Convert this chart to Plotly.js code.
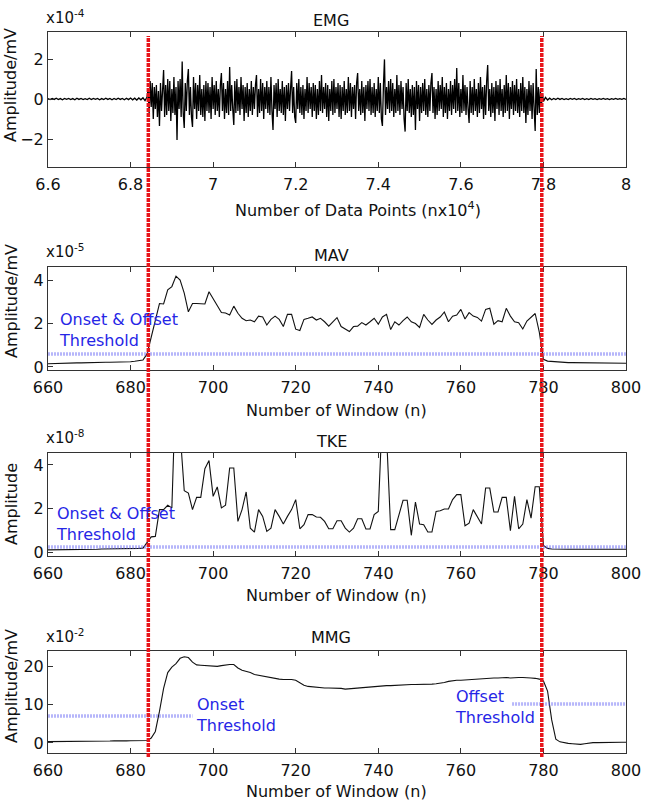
<!DOCTYPE html>
<html>
<head>
<meta charset="utf-8">
<script src="https://cdn.plot.ly/plotly-3.0.1.min.js"></script>
<style>
  html, body { margin: 0; padding: 0; background: #fff; }
  #chart { width: 645px; height: 806px; }
</style>
</head>
<body>
<div id="chart"></div>
<script>
// EMG raw signal, x in units of 1e4 data points, y in units of 1e-4 mV
// three runs of samples: quiet before onset, active, quiet after offset
var emgRest1Start = 6.6, emgRestStep = 0.005;
var emgActiveStart = 6.8425, emgActiveStep = 0.0025;
var emgRest2Start = 7.8;
var emgRest1 = [0.02,-0.03,0.03,-0.02,0.04,-0.03,0.02,-0.04,0.03,-0.02,
  0.03,-0.03,0.02,-0.04,0.04,-0.02,0.03,-0.03,0.02,-0.03,
  0.04,-0.03,0.03,-0.02,0.03,-0.04,0.02,-0.03,0.04,-0.02,
  0.03,-0.04,0.03,-0.03,0.04,-0.02,0.03,-0.04,0.04,-0.03,
  0.05,-0.04,0.04,-0.05,0.05,-0.04,0.06,-0.08,0.10];
var emgActive = [0.5,-0.7,0.9,-0.4,0.8,-1.0,0.6,-0.5,0.7,-0.9,
  0.4,-1.35,0.8,-0.6,0.5,1.45,-0.9,0.7,-0.8,1.0,
  -0.6,0.9,-1.1,0.5,-0.7,1.1,-0.8,0.6,-2.05,0.9,
  -0.5,1.0,-0.9,1.87,-0.7,-1.45,0.8,-0.6,0.9,1.5,
  -0.8,0.6,-0.9,-1.4,1.1,-0.5,0.8,-1.0,0.7,-0.6,
  1.2,-0.8,0.5,-0.9,0.7,-1.1,0.9,-0.6,0.8,-0.7,
  0.6,-1.0,1.1,-0.5,0.7,-0.8,0.9,-0.6,0.5,-0.9,
  0.7,1.3,-0.6,0.8,-1.0,0.5,-0.7,0.9,-0.8,1.6,
  -0.6,0.7,-0.5,-1.3,0.9,-0.7,1.0,-0.6,0.6,-0.8,
  1.1,-0.5,0.7,-1.1,0.6,-0.7,0.8,-0.9,0.5,-0.6,
  0.9,-0.8,0.6,-0.5,0.7,1.2,-0.9,0.5,-0.7,1.0,
  -0.6,0.8,-1.0,0.6,-0.5,0.9,-0.7,0.6,-0.8,1.1,
  -0.6,-1.55,0.7,-0.5,0.8,-0.9,1.0,-0.6,0.5,-0.7,
  0.9,-0.8,0.6,-1.1,0.7,-0.5,0.8,-0.6,0.5,1.4,
  -0.7,0.6,-0.9,-1.2,0.8,-0.5,1.0,-0.7,0.6,-0.8,
  0.7,-1.0,0.5,-0.6,1.1,-0.7,0.8,-0.5,0.6,-0.9,
  0.8,-0.6,0.7,-1.0,0.5,-0.8,0.9,-0.6,1.2,-0.7,
  0.6,-0.5,0.8,-0.9,0.7,-1.1,0.5,-0.6,0.9,-0.8,
  1.0,-0.7,0.6,-0.5,0.8,-0.9,0.7,-1.0,0.6,-0.6,
  0.9,-0.8,0.5,-0.7,1.1,-0.6,0.8,-0.9,0.6,-0.5,
  0.7,-1.0,0.8,1.3,-0.6,0.5,-0.8,0.9,-0.7,0.6,
  -1.1,0.7,-0.5,0.9,-0.6,1.0,-0.8,0.6,-0.7,0.8,
  -0.9,0.5,-0.6,1.1,-0.7,0.8,-1.0,-1.35,0.7,1.98,
  -0.8,0.6,-0.5,0.9,-0.7,1.0,-0.6,0.8,-0.9,0.5,
  -0.7,1.2,-0.6,0.7,-0.8,0.9,-0.5,0.6,-1.0,-1.63,
  0.8,-0.6,1.0,-0.7,0.5,-0.9,0.7,-0.8,0.6,-1.55,
  0.9,-0.5,0.7,-1.1,0.6,-0.7,0.8,-0.6,1.0,-0.8,
  0.5,-0.9,0.7,-0.6,0.8,1.3,-0.7,0.6,-1.0,0.5,
  -0.8,0.9,-0.6,0.7,-0.5,1.1,-0.9,0.6,-0.7,0.8,
  -1.0,0.5,-0.6,0.9,-0.8,0.7,-0.5,1.0,-0.7,1.55,
  -0.6,0.8,-0.9,0.5,-0.7,1.2,-0.6,0.7,-0.8,0.6,
  -0.5,-1.2,0.9,-0.7,0.6,-0.8,1.0,-0.6,0.5,-0.9,
  0.8,-0.7,1.1,-0.5,0.6,-1.0,0.7,-0.8,0.9,1.7,
  -0.6,0.5,-0.9,0.8,-0.7,0.6,-1.1,0.9,-0.5,0.7,
  -0.8,1.0,-0.6,0.5,-0.9,0.7,-0.7,1.2,-0.6,0.8,
  -1.0,0.6,-0.5,0.9,-0.8,0.7,-0.6,1.0,-0.7,0.5,
  -0.9,0.8,-0.6,1.1,-0.7,0.6,-1.2,0.5,-0.8,0.9,
  -0.6,0.7,-1.0,0.8,-0.5,-1.6,1.5,-0.8,0.6,-0.7,
  0.5,-0.4,0.3];
var emgRest2 = [-0.12,0.08,-0.05,0.04,-0.04,0.03,-0.03,0.04,-0.02,0.03,
  -0.03,0.02,-0.03,0.03,-0.02,0.03,-0.03,0.02,-0.02,0.03,
  -0.03,0.02,-0.03,0.03,-0.02,0.02,-0.03,0.02,-0.02,0.03,
  -0.02,0.02,-0.03,0.02,-0.02,0.03,-0.02,0.02,-0.02,0.03,
  -0.02];

// window index n = 660..800
var winStart = 660;
var mav = [0.15,0.16,0.16,0.17,0.17,0.18,0.18,0.19,0.19,0.20,
  0.20,0.20,0.21,0.21,0.22,0.22,0.22,0.23,0.23,0.24,
  0.24,0.26,0.28,0.32,0.60,1.40,2.10,2.92,2.90,3.55,
  3.70,4.18,4.00,3.40,2.54,2.92,2.92,2.90,2.90,3.46,
  3.16,2.85,2.51,2.48,2.39,2.80,2.47,2.24,2.13,2.16,
  2.08,2.34,2.30,1.93,2.19,2.34,2.19,1.86,2.42,2.42,
  1.74,1.68,2.19,2.24,2.30,2.16,2.24,2.08,1.88,2.08,
  2.27,1.86,1.74,1.63,1.86,1.88,2.04,1.93,2.08,2.24,
  1.97,2.30,2.42,1.72,2.08,1.93,2.13,2.30,2.08,2.00,
  1.82,2.42,2.16,1.96,2.16,2.30,2.53,2.08,2.34,2.39,
  2.65,2.21,2.50,2.34,2.28,2.11,2.65,2.70,1.97,2.13,
  2.08,2.70,2.34,2.08,2.04,1.75,2.11,2.30,2.46,1.60,
  0.35,0.27,0.25,0.23,0.22,0.21,0.20,0.20,0.20,0.20,
  0.20,0.19,0.19,0.19,0.19,0.18,0.18,0.18,0.18,0.17,
  0.17];
var tke = [0.10,0.10,0.11,0.11,0.11,0.12,0.12,0.12,0.12,0.13,
  0.13,0.13,0.13,0.14,0.14,0.14,0.14,0.15,0.15,0.15,
  0.15,0.16,0.17,0.18,0.45,0.70,0.72,1.95,1.95,2.15,
  2.03,8.00,5.50,2.82,2.71,1.95,2.51,2.51,3.83,4.20,
  2.56,2.99,2.03,2.15,3.86,3.86,1.41,1.95,2.76,1.10,
  0.92,1.95,1.64,0.95,1.10,1.95,1.64,1.29,1.64,1.95,
  2.41,1.07,1.26,1.72,1.72,1.61,1.60,1.41,1.07,1.07,
  1.44,1.44,1.10,0.92,1.10,1.53,1.53,1.06,1.06,1.72,
  1.87,6.50,5.40,1.03,1.03,1.70,2.38,2.38,0.77,2.30,
  1.29,1.26,0.92,0.92,1.87,1.90,1.98,1.98,2.41,2.64,
  2.64,1.21,1.33,1.95,1.64,1.29,2.94,2.94,1.84,1.84,
  2.51,2.51,0.98,2.56,1.07,1.29,2.41,1.56,3.00,3.00,
  0.30,0.17,0.14,0.13,0.13,0.13,0.13,0.13,0.13,0.13,
  0.13,0.13,0.13,0.13,0.13,0.13,0.13,0.13,0.13,0.13,
  0.13];
var mmg = [0.35,0.35,0.40,0.40,0.40,0.35,0.40,0.45,0.45,0.40,
  0.45,0.50,0.50,0.45,0.50,0.50,0.55,0.50,0.55,0.55,
  0.60,0.60,0.60,0.60,0.65,1.30,3.00,8.20,14.2,18.3,
  19.7,20.6,22.0,22.4,22.2,21.0,20.3,20.2,20.1,20.1,
  20.0,19.9,20.1,20.3,20.4,20.4,19.5,18.9,18.6,18.3,
  17.8,17.6,17.3,17.1,16.9,16.7,16.6,16.5,16.5,16.5,
  16.3,15.6,15.0,14.7,14.6,14.4,14.3,14.3,14.3,14.3,
  14.3,14.2,14.0,14.1,14.2,14.3,14.3,14.5,14.6,14.7,
  14.8,14.8,14.9,14.9,15.0,15.0,15.1,15.2,15.2,15.2,
  15.2,15.2,15.2,15.3,15.4,15.5,15.7,16.0,16.2,16.3,
  16.3,16.4,16.4,16.5,16.6,16.6,16.7,16.8,16.9,16.9,
  17.0,17.0,16.9,17.0,17.0,17.0,17.0,16.9,16.8,16.6,
  16.1,13.5,6.0,1.0,0.3,0.0,-0.1,-0.2,-0.3,-0.35,
  -0.2,0.0,0.1,0.1,0.15,0.15,0.15,0.2,0.2,0.2,
  0.2];

// thresholds and detected onset / offset
var mavThreshold = 0.6;      // x1e-5
var tkeThreshold = 0.23;     // x1e-8
var mmgOnsetThr = 7.0;       // x1e-2
var mmgOffsetThr = 10.1;
var mmgOnsetSpan = [660, 695];
var mmgOffsetSpan = [772.4, 800];
var onsetN = 684.3;
var offsetN = 779.6;

function run(vals, start, step) {
  return vals.map(function (v, i) { return start + step * i; });
}
var emg = emgRest1.concat(emgActive, emgRest2);
var emgX = run(emgRest1, emgRest1Start, emgRestStep)
  .concat(run(emgActive, emgActiveStart, emgActiveStep), run(emgRest2, emgRest2Start, emgRestStep));
var winX = run(mav, winStart, 1);

var FONT = "DejaVu Sans";
var W = 645, H = 806;
function px(x) { return x / W; }
function py(y) { return 1 - y / H; }

var thrLine = { color: "rgba(110,110,245,0.5)", width: 3.5, dash: "2px,1px" };
var sigLine = { color: "#111", width: 1.1 };

var traces = [
  { x: emgX, y: emg, xaxis: "x", yaxis: "y", mode: "lines", line: { color: "#000", width: 1.3 } },
  { x: winX, y: mav, xaxis: "x2", yaxis: "y2", mode: "lines", line: sigLine },
  { x: [660, 800], y: [mavThreshold, mavThreshold], xaxis: "x2", yaxis: "y2", mode: "lines", line: thrLine },
  { x: winX, y: tke, xaxis: "x3", yaxis: "y3", mode: "lines", line: sigLine },
  { x: [660, 800], y: [tkeThreshold, tkeThreshold], xaxis: "x3", yaxis: "y3", mode: "lines", line: thrLine },
  { x: winX, y: mmg, xaxis: "x4", yaxis: "y4", mode: "lines", line: sigLine },
  { x: mmgOnsetSpan, y: [mmgOnsetThr, mmgOnsetThr], xaxis: "x4", yaxis: "y4", mode: "lines", line: thrLine },
  { x: mmgOffsetSpan, y: [mmgOffsetThr, mmgOffsetThr], xaxis: "x4", yaxis: "y4", mode: "lines", line: thrLine }
];

function xAx(anchor, range, dtick) {
  return {
    anchor: anchor, domain: [px(48), px(626)], range: range, dtick: dtick, tick0: range[0],
    showline: true, mirror: "ticks", linecolor: "#333", linewidth: 1,
    ticks: "inside", ticklen: 5, tickcolor: "#333", ticklabelstandoff: 3,
    showgrid: false, zeroline: false,
    tickfont: { family: FONT, size: 16, color: "#111" }
  };
}
function yAx(anchor, range, dtick, top, bottom) {
  return {
    anchor: anchor, domain: [py(bottom), py(top)], range: range, dtick: dtick, tick0: 0,
    showline: true, mirror: true, linecolor: "#333", linewidth: 1,
    ticks: "inside", ticklen: 5, tickcolor: "#333",
    showgrid: false, zeroline: false,
    tickfont: { family: FONT, size: 16, color: "#111" }
  };
}

function txt(x, y, s, opts) {
  return Object.assign({
    xref: "paper", yref: "paper", x: px(x), y: py(y), text: s, showarrow: false,
    xanchor: "center", yanchor: "middle",
    font: { family: FONT, size: 16, color: "#111" }
  }, opts || {});
}
var blue = { family: FONT, size: 16, color: "#2626e6" };
var expFont = { family: FONT, size: 15, color: "#111" };

var annotations = [
  txt(331, 21, "EMG"), txt(331, 255, "MAV"), txt(331, 441, "TKE"), txt(331, 637, "MMG"),
  txt(44, 17, "x10<sup>-4</sup>", { xanchor: "left", font: expFont }),
  txt(44, 251, "x10<sup>-5</sup>", { xanchor: "left", font: expFont }),
  txt(44, 437, "x10<sup>-8</sup>", { xanchor: "left", font: expFont }),
  txt(44, 636, "x10<sup>-2</sup>", { xanchor: "left", font: expFont }),
  txt(358, 209, "Number of Data Points (nx10<sup>4</sup>)"),
  txt(337, 410, "Number of Window (n)"),
  txt(337, 595, "Number of Window (n)"),
  txt(337, 791, "Number of Window (n)"),
  txt(11, 85, "Amplitude/mV", { textangle: -90 }),
  txt(11, 301, "Amplitude/mV", { textangle: -90 }),
  txt(11, 504, "Amplitude", { textangle: -90 }),
  txt(11, 686, "Amplitude/mV", { textangle: -90 }),
  txt(57, 330, "Onset &amp; Offset<br>Threshold", { xanchor: "left", align: "left", font: blue }),
  txt(54, 524, "Onset &amp; Offset<br>Threshold", { xanchor: "left", align: "left", font: blue }),
  txt(194, 715, "Onset<br>Threshold", { xanchor: "left", align: "left", font: blue }),
  txt(453, 707, "Offset<br>Threshold", { xanchor: "left", align: "left", font: blue })
];

var redLine = { color: "#e8141a", width: 3.5, dash: "4px,1px" };
var shapes = [onsetN, offsetN].map(function (n) {
  return { type: "line", xref: "x2", yref: "paper", x0: n, x1: n, y0: py(757), y1: py(36), line: redLine, layer: "above" };
});

var layout = {
  width: W, height: H,
  margin: { l: 0, r: 0, t: 0, b: 0 },
  paper_bgcolor: "#fff", plot_bgcolor: "#fff",
  showlegend: false,
  font: { family: FONT, color: "#111" },
  xaxis: xAx("y", [6.6, 8.0], 0.2),
  yaxis: yAx("x", [-3.4, 3.35], 2, 32, 167),
  xaxis2: xAx("y2", [660, 800], 20),
  yaxis2: yAx("x2", [-0.14, 4.6], 2, 267, 370),
  xaxis3: xAx("y3", [660, 800], 20),
  yaxis3: yAx("x3", [-0.18, 4.55], 2, 453, 556),
  xaxis4: xAx("y4", [660, 800], 20),
  yaxis4: yAx("x4", [-2.6, 23.9], 10, 651, 753),
  annotations: annotations,
  shapes: shapes
};

Plotly.newPlot("chart", traces, layout, { displayModeBar: false, staticPlot: true });
</script>
</body>
</html>
